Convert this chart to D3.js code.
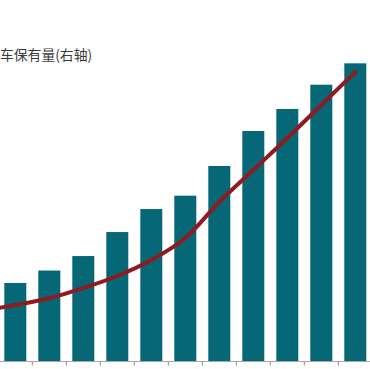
<!DOCTYPE html>
<html>
<head>
<meta charset="utf-8">
<script src="https://cdn.jsdelivr.net/npm/d3@7"></script>
<style>
html,body{margin:0;padding:0;background:#fff;}
svg{display:block;}
</style>
</head>
<body>
<svg id="chart" width="370" height="369"></svg>
<script>
// Categories (first one lies outside the cropped view)
const categories = ["2007","2008","2009","2010","2011","2012","2013","2014","2015","2016","2017","2018"];
// Bar series (left axis)
const barValues = [700, 782, 906, 1050, 1289, 1518, 1651, 1947, 2295, 2514, 2756, 2969];
// Line series: 汽车保有量 (right axis)
const lineValues = [3592, 4018, 4495, 5228, 6081, 7219, 8784, 11344, 13620, 15896, 18243, 20590];
const legendLabel = "车保有量(右轴)";

const svg = d3.select("#chart");
const baseY = 361.5, topY = 10;

const x = d3.scaleBand().domain(categories).range([-35.7, 372.3]).padding(0);
const yL = d3.scaleLinear().domain([0, 3500]).range([baseY, topY]);
const yR = d3.scaleLinear().domain([0, 25000]).range([baseY, topY]);

const barW = x.bandwidth() * 0.647;

svg.append("g").selectAll("rect").data(categories).join("rect")
  .attr("x", d => x(d) + (x.bandwidth() - barW) / 2)
  .attr("width", barW)
  .attr("y", (d, i) => yL(barValues[i]))
  .attr("height", (d, i) => baseY - yL(barValues[i]))
  .attr("fill", "#066877");

// x axis line and ticks at band boundaries
const axis = d3.axisBottom(x).tickSize(0).tickFormat("");
const ax = svg.append("g").attr("transform", `translate(0,${baseY})`).call(axis);
ax.select(".domain").remove();
ax.append("line").attr("x1", 0).attr("x2", 370).attr("y1", 0).attr("y2", 0)
  .attr("stroke", "#a8a8a8").attr("stroke-width", 1);
const bounds = categories.map(d => x(d)).concat([x(categories[categories.length - 1]) + x.step()]);
ax.selectAll(".bt").data(bounds).join("line").attr("class", "bt")
  .attr("x1", d => d).attr("x2", d => d).attr("y1", 0).attr("y2", 4)
  .attr("stroke", "#8a8a8a").attr("stroke-width", 1);

// line
const line = d3.line()
  .x((d, i) => x(categories[i]) + x.bandwidth() / 2)
  .y(d => yR(d))
  .curve(d3.curveMonotoneX);
svg.append("path").datum(lineValues)
  .attr("d", line)
  .attr("fill", "none")
  .attr("stroke", "#8e1b1f")
  .attr("stroke-width", 4)
  .attr("stroke-linecap", "round")
  .attr("stroke-linejoin", "round");

// legend text (cropped)
svg.append("text")
  .attr("x", 0).attr("y", 60)
  .attr("font-family", "'Noto Sans CJK SC', 'Liberation Serif', serif")
  .attr("font-size", 13.8)
  .attr("fill", "#3a3a3a")
  .text(legendLabel);
</script>
</body>
</html>
